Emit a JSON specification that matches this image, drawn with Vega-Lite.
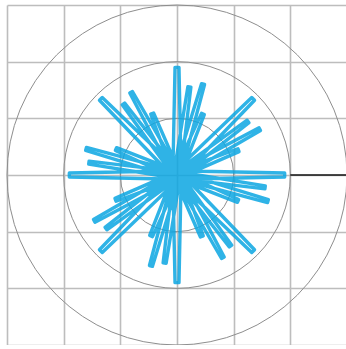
{
  "$schema": "https://vega.github.io/schema/vega-lite/v6.json",
  "width": 340,
  "height": 340,
  "autosize": "none",
  "padding": {"left": 7, "top": 5, "right": 0, "bottom": 0},
  "background": "white",
  "config": {
    "view": {"stroke": null},
    "axis": {"grid": true, "gridColor": "#bdbdbd", "gridWidth": 1.6, "gridOpacity": 1, "labels": false, "ticks": false, "domain": false, "title": null}
  },
  "datasets": {
    "rings": [{"x": 0, "y": 0, "r": 1}, {"x": 0, "y": 0, "r": 2}, {"x": 0, "y": 0, "r": 3}],
    "ref": [{"x": 2, "y": 0}, {"x": 3, "y": 0}],
    "star": [
      {"i":1,"x":0,"y":0},{"i":2,"x":0.1626,"y":-0.1288},{"i":3,"x":1.0664,"y":-0.4820},{"i":4,"x":1.0875,"y":-0.4323},{"i":5,"x":0.2056,"y":-0.0275},
      {"i":6,"x":0,"y":0},{"i":7,"x":0.1771,"y":-0.1080},{"i":8,"x":1.5979,"y":-0.4863},{"i":9,"x":1.6127,"y":-0.4344},{"i":10,"x":0.2074,"y":-0.0023},
      {"i":11,"x":0,"y":0},{"i":12,"x":0.1904,"y":-0.0823},{"i":13,"x":1.5510,"y":-0.2452},{"i":14,"x":1.5585,"y":-0.1918},{"i":15,"x":0.2057,"y":0.0266},
      {"i":16,"x":0,"y":0},{"i":17,"x":0.2,"y":-0.07},{"i":18,"x":1.90,"y":-0.035},{"i":19,"x":1.90,"y":0.035},{"i":20,"x":0.2,"y":0.07},
      {"i":21,"x":0,"y":0},{"i":22,"x":0.2060,"y":0.0239},{"i":23,"x":1.0949,"y":0.4133},{"i":24,"x":1.0747,"y":0.4633},{"i":25,"x":0.1648,"y":0.1259},
      {"i":26,"x":0,"y":0},{"i":27,"x":0.2016,"y":0.0489},{"i":28,"x":1.4737,"y":0.7860},{"i":29,"x":1.4475,"y":0.8332},{"i":30,"x":0.1483,"y":0.1451},
      {"i":31,"x":0,"y":0},{"i":32,"x":0.1928,"y":0.0764},{"i":33,"x":1.2701,"y":0.9233},{"i":34,"x":1.2376,"y":0.9664},{"i":35,"x":0.1266,"y":0.1643},
      {"i":36,"x":0,"y":0},{"i":37,"x":0.1909,"y":0.0919},{"i":38,"x":1.3683,"y":1.3188},{"i":39,"x":1.3188,"y":1.3683},{"i":40,"x":0.0919,"y":0.1909},
      {"i":41,"x":0,"y":0},{"i":42,"x":0.1288,"y":0.1626},{"i":43,"x":0.4820,"y":1.0664},{"i":44,"x":0.4323,"y":1.0875},{"i":45,"x":0.0275,"y":0.2056},
      {"i":46,"x":0,"y":0},{"i":47,"x":0.1080,"y":0.1771},{"i":48,"x":0.4863,"y":1.5979},{"i":49,"x":0.4344,"y":1.6127},{"i":50,"x":0.0023,"y":0.2074},
      {"i":51,"x":0,"y":0},{"i":52,"x":0.0823,"y":0.1904},{"i":53,"x":0.2452,"y":1.5510},{"i":54,"x":0.1918,"y":1.5585},{"i":55,"x":-0.0266,"y":0.2057},
      {"i":56,"x":0,"y":0},{"i":57,"x":0.07,"y":0.2},{"i":58,"x":0.035,"y":1.90},{"i":59,"x":-0.035,"y":1.90},{"i":60,"x":-0.07,"y":0.2},
      {"i":61,"x":0,"y":0},{"i":62,"x":-0.0239,"y":0.2060},{"i":63,"x":-0.4133,"y":1.0949},{"i":64,"x":-0.4633,"y":1.0747},{"i":65,"x":-0.1259,"y":0.1648},
      {"i":66,"x":0,"y":0},{"i":67,"x":-0.0489,"y":0.2016},{"i":68,"x":-0.7860,"y":1.4737},{"i":69,"x":-0.8332,"y":1.4475},{"i":70,"x":-0.1451,"y":0.1483},
      {"i":71,"x":0,"y":0},{"i":72,"x":-0.0764,"y":0.1928},{"i":73,"x":-0.9233,"y":1.2701},{"i":74,"x":-0.9664,"y":1.2376},{"i":75,"x":-0.1643,"y":0.1266},
      {"i":76,"x":0,"y":0},{"i":77,"x":-0.0919,"y":0.1909},{"i":78,"x":-1.3188,"y":1.3683},{"i":79,"x":-1.3683,"y":1.3188},{"i":80,"x":-0.1909,"y":0.0919},
      {"i":81,"x":0,"y":0},{"i":82,"x":-0.1626,"y":0.1288},{"i":83,"x":-1.0664,"y":0.4820},{"i":84,"x":-1.0875,"y":0.4323},{"i":85,"x":-0.2056,"y":0.0275},
      {"i":86,"x":0,"y":0},{"i":87,"x":-0.1771,"y":0.1080},{"i":88,"x":-1.5979,"y":0.4863},{"i":89,"x":-1.6127,"y":0.4344},{"i":90,"x":-0.2074,"y":0.0023},
      {"i":91,"x":0,"y":0},{"i":92,"x":-0.1904,"y":0.0823},{"i":93,"x":-1.5510,"y":0.2452},{"i":94,"x":-1.5585,"y":0.1918},{"i":95,"x":-0.2057,"y":-0.0266},
      {"i":96,"x":0,"y":0},{"i":97,"x":-0.2,"y":0.07},{"i":98,"x":-1.90,"y":0.035},{"i":99,"x":-1.90,"y":-0.035},{"i":100,"x":-0.2,"y":-0.07},
      {"i":101,"x":0,"y":0},{"i":102,"x":-0.2060,"y":-0.0239},{"i":103,"x":-1.0949,"y":-0.4133},{"i":104,"x":-1.0747,"y":-0.4633},{"i":105,"x":-0.1648,"y":-0.1259},
      {"i":106,"x":0,"y":0},{"i":107,"x":-0.2016,"y":-0.0489},{"i":108,"x":-1.4737,"y":-0.7860},{"i":109,"x":-1.4475,"y":-0.8332},{"i":110,"x":-0.1483,"y":-0.1451},
      {"i":111,"x":0,"y":0},{"i":112,"x":-0.1928,"y":-0.0764},{"i":113,"x":-1.2701,"y":-0.9233},{"i":114,"x":-1.2376,"y":-0.9664},{"i":115,"x":-0.1266,"y":-0.1643},
      {"i":116,"x":0,"y":0},{"i":117,"x":-0.1909,"y":-0.0919},{"i":118,"x":-1.3683,"y":-1.3188},{"i":119,"x":-1.3188,"y":-1.3683},{"i":120,"x":-0.0919,"y":-0.1909},
      {"i":121,"x":0,"y":0},{"i":122,"x":-0.1288,"y":-0.1626},{"i":123,"x":-0.4820,"y":-1.0664},{"i":124,"x":-0.4323,"y":-1.0875},{"i":125,"x":-0.0275,"y":-0.2056},
      {"i":126,"x":0,"y":0},{"i":127,"x":-0.1080,"y":-0.1771},{"i":128,"x":-0.4863,"y":-1.5979},{"i":129,"x":-0.4344,"y":-1.6127},{"i":130,"x":-0.0023,"y":-0.2074},
      {"i":131,"x":0,"y":0},{"i":132,"x":-0.0823,"y":-0.1904},{"i":133,"x":-0.2452,"y":-1.5510},{"i":134,"x":-0.1918,"y":-1.5585},{"i":135,"x":0.0266,"y":-0.2057},
      {"i":136,"x":0,"y":0},{"i":137,"x":-0.07,"y":-0.2},{"i":138,"x":-0.035,"y":-1.90},{"i":139,"x":0.035,"y":-1.90},{"i":140,"x":0.07,"y":-0.2},
      {"i":141,"x":0,"y":0},{"i":142,"x":0.0239,"y":-0.2060},{"i":143,"x":0.4133,"y":-1.0949},{"i":144,"x":0.4633,"y":-1.0747},{"i":145,"x":0.1259,"y":-0.1648},
      {"i":146,"x":0,"y":0},{"i":147,"x":0.0489,"y":-0.2016},{"i":148,"x":0.7860,"y":-1.4737},{"i":149,"x":0.8332,"y":-1.4475},{"i":150,"x":0.1451,"y":-0.1483},
      {"i":151,"x":0,"y":0},{"i":152,"x":0.0764,"y":-0.1928},{"i":153,"x":0.9233,"y":-1.2701},{"i":154,"x":0.9664,"y":-1.2376},{"i":155,"x":0.1643,"y":-0.1266},
      {"i":156,"x":0,"y":0},{"i":157,"x":0.0919,"y":-0.1909},{"i":158,"x":1.3188,"y":-1.3683},{"i":159,"x":1.3683,"y":-1.3188},{"i":160,"x":0.1909,"y":-0.0919},
      {"i":161,"x":0,"y":0}
    ]
  },
  "layer": [
    {
      "data": {"name": "rings"},
      "mark": {"type": "point", "shape": "circle", "filled": false, "stroke": "#8e8e8e", "strokeWidth": 1, "opacity": 1},
      "encoding": {
        "x": {"field": "x", "type": "quantitative", "scale": {"domain": [-3, 3], "nice": false, "zero": false}, "axis": {"values": [-3, -2, -1, 0, 1, 2, 3]}},
        "y": {"field": "y", "type": "quantitative", "scale": {"domain": [-3, 3], "nice": false, "zero": false}, "axis": {"values": [-3, -2, -1, 0, 1, 2, 3]}},
        "size": {"field": "r", "type": "quantitative", "scale": {"type": "pow", "exponent": 2, "domain": [0, 3], "range": [0, 115600]}, "legend": null}
      }
    },
    {
      "data": {"name": "star"},
      "mark": {"type": "line", "color": "#0ba6e2", "strokeWidth": 3.4, "opacity": 0.85, "strokeJoin": "round", "strokeCap": "round"},
      "encoding": {
        "x": {"field": "x", "type": "quantitative"},
        "y": {"field": "y", "type": "quantitative"},
        "order": {"field": "i", "type": "quantitative"}
      }
    },
    {
      "data": {"name": "ref"},
      "mark": {"type": "line", "color": "#111111", "strokeWidth": 1.6},
      "encoding": {
        "x": {"field": "x", "type": "quantitative"},
        "y": {"field": "y", "type": "quantitative"}
      }
    }
  ]
}
